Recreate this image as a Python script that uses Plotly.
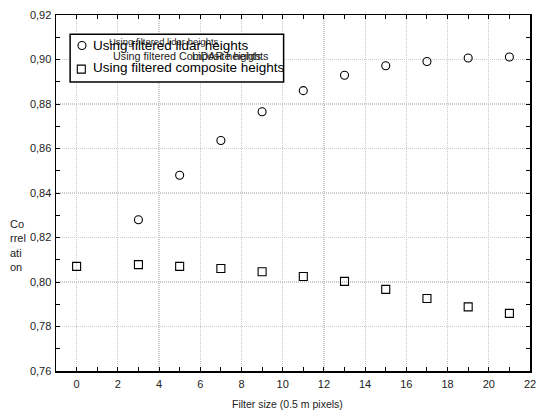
import plotly.graph_objects as go

# ---- data ----
filter_lidar = [3, 5, 7, 9, 11, 13, 15, 17, 19, 21]
corr_lidar = [0.828, 0.848, 0.8636, 0.8765, 0.886, 0.8929, 0.8972, 0.8991, 0.9007, 0.9011]
filter_comp = [0, 3, 5, 7, 9, 11, 13, 15, 17, 19, 21]
corr_comp = [0.807, 0.8078, 0.807, 0.8061, 0.8046, 0.8025, 0.8003, 0.7967, 0.7926, 0.7888, 0.7859]
x_ticks = list(range(0, 23, 2))
y_ticks = [0.76, 0.78, 0.80, 0.82, 0.84, 0.86, 0.88, 0.90, 0.92]
name_lidar = "Using filtered lidar heights"
name_comp = "Using filtered composite heights"

FONT = "Liberation Sans, Arial, sans-serif"

fig = go.Figure()
fig.add_trace(go.Scatter(
    x=filter_lidar, y=corr_lidar, mode="markers", name=name_lidar,
    marker=dict(symbol="circle-open", size=8, color="black", line=dict(width=1.1)),
    showlegend=False, cliponaxis=False, hoverinfo="skip"))
fig.add_trace(go.Scatter(
    x=filter_comp, y=corr_comp, mode="markers", name=name_comp,
    marker=dict(symbol="square-open", size=8, color="black", line=dict(width=1.1)),
    showlegend=False, cliponaxis=False, hoverinfo="skip"))

axis_common = dict(
    showline=True, linecolor="black", linewidth=1.5, mirror="allticks",
    ticks="inside", ticklen=4, tickwidth=1, tickcolor="black",
    showgrid=True, gridcolor="#cccccc", griddash="1px,1px", gridwidth=1.2,
    zeroline=False,
    tickfont=dict(family=FONT, size=11, color="#222"),
)

fig.update_xaxes(
    range=[-1, 22], tickvals=x_ticks, ticktext=[str(v) for v in x_ticks],
    minor=dict(dtick=1, tick0=0, ticks="inside", ticklen=4, tickcolor="black", showgrid=False),
    ticklabelstandoff=2,
    **axis_common)
fig.update_yaxes(
    range=[0.76, 0.92], tickvals=y_ticks, tickformat=".2f",
    minor=dict(dtick=0.01, tick0=0.76, ticks="inside", ticklen=4, tickcolor="black", showgrid=False),
    ticklabelstandoff=1,
    **axis_common)

# legend box (drawn manually to mimic the original)
shapes = [
    dict(type="rect", xref="paper", yref="paper", x0=0.0298, x1=0.4802, y0=0.8116, y1=0.9462,
         line=dict(color="black", width=1.5), fillcolor="white", layer="above"),
    dict(type="circle", xref="paper", yref="paper", xsizemode="pixel", ysizemode="pixel",
         xanchor=0.0548, yanchor=0.9145, x0=-4, x1=4, y0=-4, y1=4,
         line=dict(color="black", width=1.1), layer="above"),
    dict(type="rect", xref="paper", yref="paper", xsizemode="pixel", ysizemode="pixel",
         xanchor=0.0534, yanchor=0.848, x0=-4, x1=4, y0=-4, y1=4,
         line=dict(color="black", width=1.1), layer="above"),
]

annotations = [
    dict(text=name_lidar, xref="paper", yref="paper", x=0.107, y=0.9266,
         xanchor="left", yanchor="middle", showarrow=False,
         font=dict(family=FONT, size=9.5, color="#222")),
    dict(text="Using filtered Composite heights", xref="paper", yref="paper", x=0.116, y=0.8845,
         xanchor="left", yanchor="middle", showarrow=False,
         font=dict(family=FONT, size=10.8, color="#222")),
    dict(text="LiDAR heights", xref="paper", yref="paper", x=(267 - 56.4) / 479.6, y=0.8845,
         xanchor="right", yanchor="middle", showarrow=False,
         font=dict(family=FONT, size=10.8, color="#222")),
    dict(text=name_lidar, xref="paper", yref="paper", x=0.0742, y=0.9134,
         xanchor="left", yanchor="middle", showarrow=False,
         font=dict(family=FONT, size=13.5, color="black")),
    dict(text=name_comp, xref="paper", yref="paper", x=0.0742, y=0.852,
         xanchor="left", yanchor="middle", showarrow=False,
         font=dict(family=FONT, size=13.5, color="black")),
    # axis titles
    dict(text="Filter size (0.5 m pixels)", xref="paper", yref="paper",
         x=(291 - 56.4) / 479.6, y=(371.5 - 405) / 356.7,
         xanchor="center", yanchor="middle", showarrow=False,
         font=dict(family=FONT, size=10.5, color="#222")),
    dict(text="Co<br>rrel<br>ati<br>on", xref="paper", yref="paper",
         x=(8 - 56.4) / 479.6, y=0.353, align="left",
         xanchor="left", yanchor="middle", showarrow=False,
         font=dict(family=FONT, size=11, color="#222")),
]

fig.update_layout(
    width=541, height=413,
    margin=dict(l=56.4, r=5, t=14.8, b=41.5),
    paper_bgcolor="white", plot_bgcolor="white",
    separators=", ",
    font=dict(family=FONT, size=11, color="#222"),
    shapes=shapes, annotations=annotations,
    showlegend=False, hovermode=False,
)

fig.write_html(
    "out.html",
    config={"displayModeBar": False, "staticPlot": True},
    post_script="document.body.style.margin='0px';document.body.style.padding='0px';",
)
